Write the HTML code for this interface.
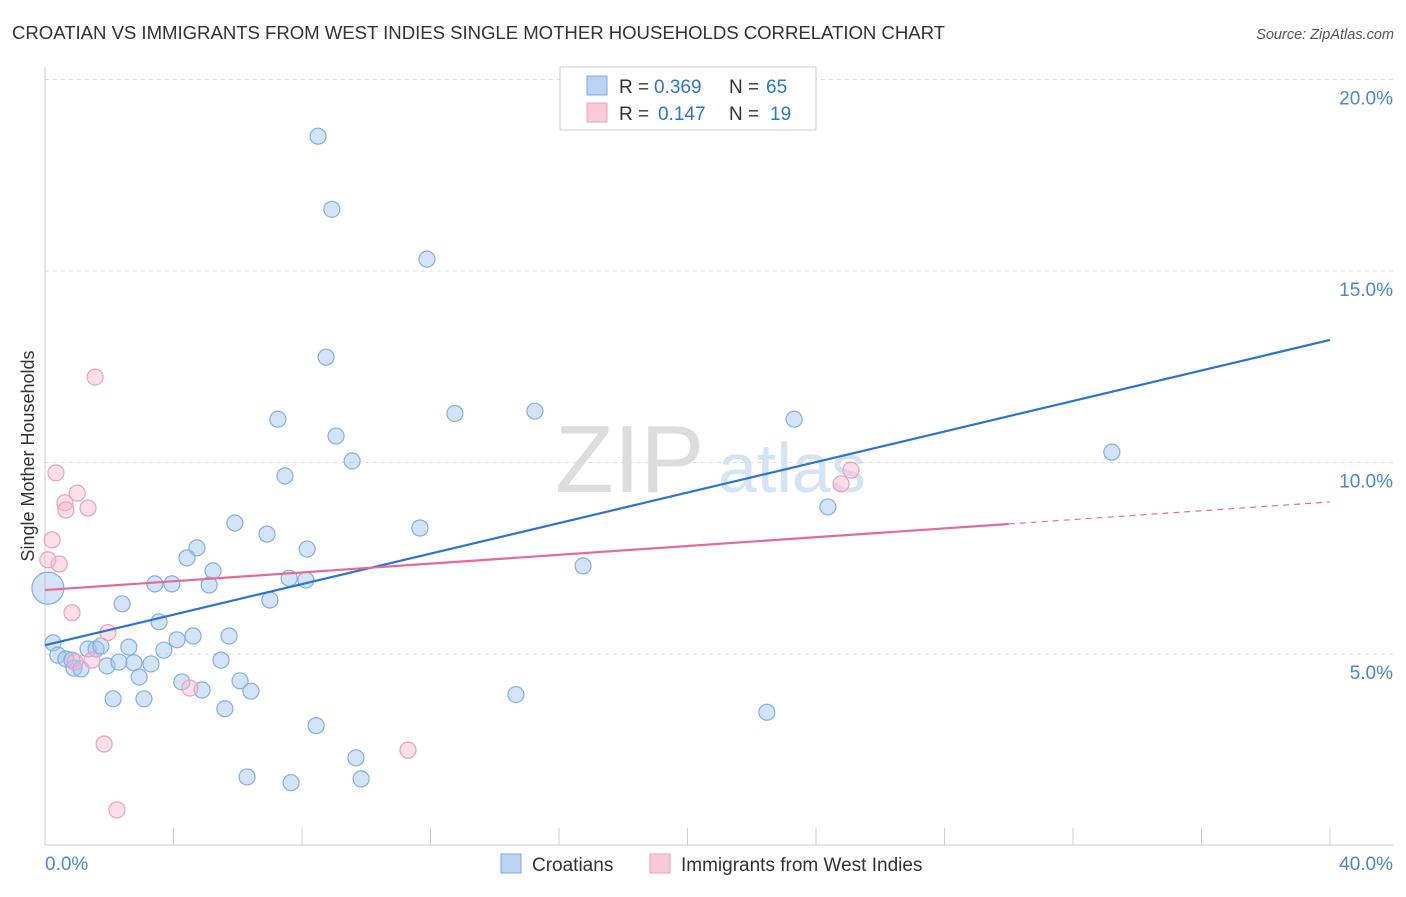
<!DOCTYPE html>
<html><head><meta charset="utf-8"><style>
body{margin:0;background:#fff;font-family:"Liberation Sans",sans-serif;}
svg text{font-family:"Liberation Sans",sans-serif;}
</style></head><body>
<svg id="chart" width="1406" height="892" viewBox="0 0 1406 892" xmlns="http://www.w3.org/2000/svg">
<text x="12" y="39" font-size="18.6" fill="#333" textLength="933">CROATIAN VS IMMIGRANTS FROM WEST INDIES SINGLE MOTHER HOUSEHOLDS CORRELATION CHART</text>
<text x="1394" y="39" font-size="14.5" fill="#555" font-style="italic" text-anchor="end">Source: ZipAtlas.com</text>
<text x="555" y="492" font-size="96" fill="#ddd" font-family="Liberation Serif,serif">ZIP</text>
<text x="718" y="492" font-size="70" fill="#d4e3f5">atlas</text>
<g id="grid"></g>
<g id="axes"></g>
<g id="marks"></g>
<text transform="translate(34,456) rotate(-90)" font-size="18" fill="#333" text-anchor="middle">Single Mother Households</text>
<g>
<rect x="560" y="67" width="256" height="63" fill="#fff" stroke="#ccc"/>
<rect x="587" y="76" width="20" height="19" fill="#b9d3f5" stroke="#7aa8e0"/>
<rect x="587" y="103" width="20" height="19" fill="#fbc9d8" stroke="#eea0b8"/>
<text x="619" y="93" font-size="19" fill="#333">R =</text>
<text x="654" y="93" font-size="19" fill="#2a74d8">0.369</text>
<text x="729" y="93" font-size="19" fill="#333">N =</text>
<text x="766" y="93" font-size="19" fill="#2a74d8">65</text>
<text x="619" y="120" font-size="19" fill="#333">R =</text>
<text x="658" y="120" font-size="19" fill="#2a74d8">0.147</text>
<text x="729" y="120" font-size="19" fill="#333">N =</text>
<text x="770" y="120" font-size="19" fill="#2a74d8">19</text>
</g>
<g>
<rect x="501" y="854" width="20" height="19" fill="#b9d3f5" stroke="#7aa8e0"/>
<text x="532" y="871" font-size="19" fill="#333">Croatians</text>
<rect x="650" y="854" width="20" height="19" fill="#fbc9d8" stroke="#eea0b8"/>
<text x="681" y="871" font-size="19" fill="#333">Immigrants from West Indies</text>
</g>
</svg>
<script>
const yTicks=[5,10,15,20];
const yTickLabels=["5.0%","10.0%","15.0%","20.0%"];
const xTickLabels=["0.0%","40.0%"];
const croX=[8.50,8.93,11.89,8.75,7.25,12.76,15.25,23.32,33.21,9.06,9.56,7.47,24.37,5.91,11.67,6.91,4.73,8.16,4.42,5.23,16.75,3.42,3.95,5.11,7.60,8.12,2.40,7.00,3.55,4.11,4.61,5.73,0.25,2.61,3.70,1.34,1.59,1.74,0.40,0.65,0.84,0.90,1.12,1.93,2.30,2.77,3.30,5.48,2.93,4.26,4.89,6.07,6.41,2.12,3.08,5.60,14.66,22.47,8.44,9.68,6.29,7.66,9.84,0.09];
const croY=[18.52,16.61,15.31,12.75,11.13,11.28,11.34,11.13,10.27,10.69,10.04,9.65,8.84,8.42,8.29,8.13,7.77,7.74,7.51,7.17,7.30,6.83,6.83,6.80,6.98,6.93,6.31,6.41,5.84,5.37,5.47,5.47,5.29,5.18,5.10,5.13,5.13,5.21,4.97,4.87,4.84,4.63,4.61,4.69,4.79,4.77,4.74,4.84,4.40,4.27,4.06,4.30,4.03,3.83,3.83,3.57,3.94,3.48,3.13,2.29,1.79,1.64,1.74,6.72];
const wiX=[1.56,0.34,0.62,1.00,0.65,1.34,0.22,0.44,0.09,0.84,1.96,1.46,0.93,4.51,1.84,2.24,11.30,25.09,24.78];
const wiY=[12.23,9.73,8.95,9.20,8.76,8.81,7.98,7.35,7.46,6.08,5.56,4.84,4.79,4.11,2.65,0.93,2.49,9.80,9.44];
const croLine=[5.23,13.2];
const wiLine=[6.67,8.97];
const wiSolidEnd=30.0;

const NS="http://www.w3.org/2000/svg";
const sx=v=>45+v*32.125;
const sy=v=>845.5-v*38.3;
function mk(tag,attrs,parent){const e=document.createElementNS(NS,tag);for(const k in attrs)e.setAttribute(k,attrs[k]);parent.appendChild(e);return e;}
const grid=document.getElementById('grid'),axes=document.getElementById('axes'),marks=document.getElementById('marks');
yTicks.forEach((t,i)=>{
 const l=mk('line',{x1:45,x2:1393,y1:sy(t),y2:sy(t),stroke:'#ddd','stroke-dasharray':'4,4'},grid);
 
 
 const tx=mk('text',{x:1393,y:sy(t)+25,'font-size':19,fill:'#4a86d8','text-anchor':'end'},grid);
 tx.textContent=yTickLabels[i];
 
 
});
const ya=mk('line',{x1:45,x2:45,y1:67,y2:845,stroke:'#ccc'},axes);


const xa=mk('line',{x1:45,x2:1393,y1:845,y2:845,stroke:'#ccc'},axes);


for(let i=0;i<=10;i++){
 const t=mk('line',{x1:sx(i*4),x2:sx(i*4),y1:828,y2:845,stroke:'#ccc'},axes);
 
 
}
const xl0=mk('text',{x:45,y:870,'font-size':19,fill:'#4a86d8'},axes);
xl0.textContent=xTickLabels[0];


const xl1=mk('text',{x:1393,y:870,'font-size':19,fill:'#4a86d8','text-anchor':'end'},axes);
xl1.textContent=xTickLabels[1];



croX.forEach((x,i)=>{
 const big=i===croX.length-1;
 const c=mk('circle',{cx:sx(x),cy:sy(croY[i]),r:big?16:8,fill:'rgba(160,196,240,0.45)',stroke:'#7fb0e6','stroke-width':1.2},marks);
 
 
});
wiX.forEach((x,i)=>{
 const c=mk('circle',{cx:sx(x),cy:sy(wiY[i]),r:8,fill:'rgba(248,185,205,0.45)',stroke:'#f0a0b8','stroke-width':1.2},marks);
 
 
});
const bl=mk('line',{x1:sx(0),y1:sy(croLine[0]),x2:sx(40),y2:sy(croLine[1]),stroke:'#2a74d8','stroke-width':2.2},marks);


const wy=x=>wiLine[0]+(wiLine[1]-wiLine[0])*x/40;
const pl=mk('line',{x1:sx(0),y1:sy(wiLine[0]),x2:sx(wiSolidEnd),y2:sy(wy(wiSolidEnd)),stroke:'#e86a94','stroke-width':2.2},marks);


const pd=mk('line',{x1:sx(wiSolidEnd),y1:sy(wy(wiSolidEnd)),x2:sx(40),y2:sy(wiLine[1]),stroke:'#e86a94','stroke-width':1.2,'stroke-dasharray':'6,5'},marks);


</script>
</body></html>
